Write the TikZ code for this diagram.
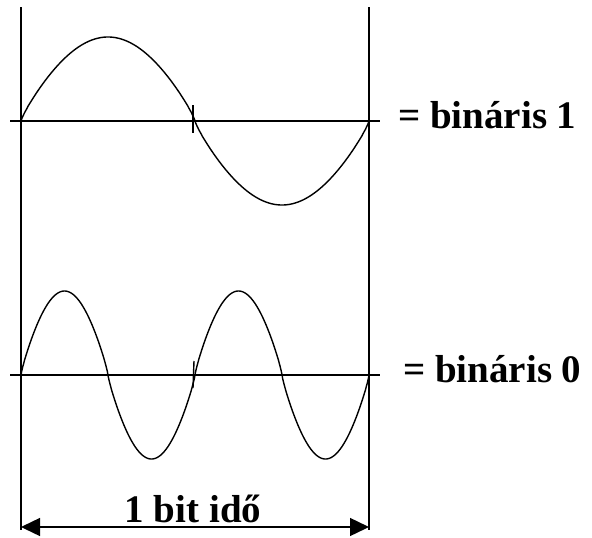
\documentclass[tikz,border=0pt]{standalone}
\usepackage{fontspec}
\setmainfont{Liberation Serif}
\usetikzlibrary{arrows.meta}

\begin{document}
\begin{tikzpicture}[
  x=1pt,y=-1pt,
  wave/.style={line width=1.4pt,line join=round},
  axisline/.style={line width=1.4pt},
  tick/.style={line width=1.4pt},
  lab/.style={font=\fontsize{39}{44}\selectfont\bfseries,inner sep=0pt},
  span/.style={line width=1.4pt,{Triangle[length=19pt,width=18pt]}-{Triangle[length=19pt,width=18pt]}},
  declare function={hump(\t)=sign(sin(\t))*pow(abs(sin(\t))+0.00001,0.85);}
]
\useasboundingbox (0,0) rectangle (592,538);

% ---- bit hatarok ----
\coordinate (lt) at (21,7);
\coordinate (lb) at (21,530);
\coordinate (rt) at (369,7);
\coordinate (rb) at (369,530);
\draw[axisline] (lt) -- (lb);
\draw[axisline] (rt) -- (rb);

% ---- binaris 1: egy periodus ----
\coordinate (a1l) at (10,121);
\coordinate (a1r) at (380,121);
\draw[axisline] (a1l) -- (a1r);
\draw[tick] (193,105) -- (193,133);
\draw[wave] plot[domain=21:369,samples=400] (\x,{121-84*hump((\x-21)/348*360)});
\node[lab,anchor=base west] (one) at (398,128) {= bináris 1};

% ---- binaris 0: ket periodus ----
\coordinate (a0l) at (10,375);
\coordinate (a0r) at (380,375);
\draw[axisline] (a0l) -- (a0r);
\draw[tick] (194,361) -- (193,388);
\draw[wave] plot[domain=21:369,samples=400] (\x,{375-84*hump((\x-21)/174*360)});
\node[lab,anchor=base west] (zero) at (403,382) {= bináris 0};

% ---- bitido ----
\coordinate (sl) at (21,527);
\coordinate (sr) at (369,527);
\draw[span] (sl) -- (sr);
\node[lab,anchor=base] (bit) at (193,522) {1 bit idő};

\end{tikzpicture}
\end{document}
